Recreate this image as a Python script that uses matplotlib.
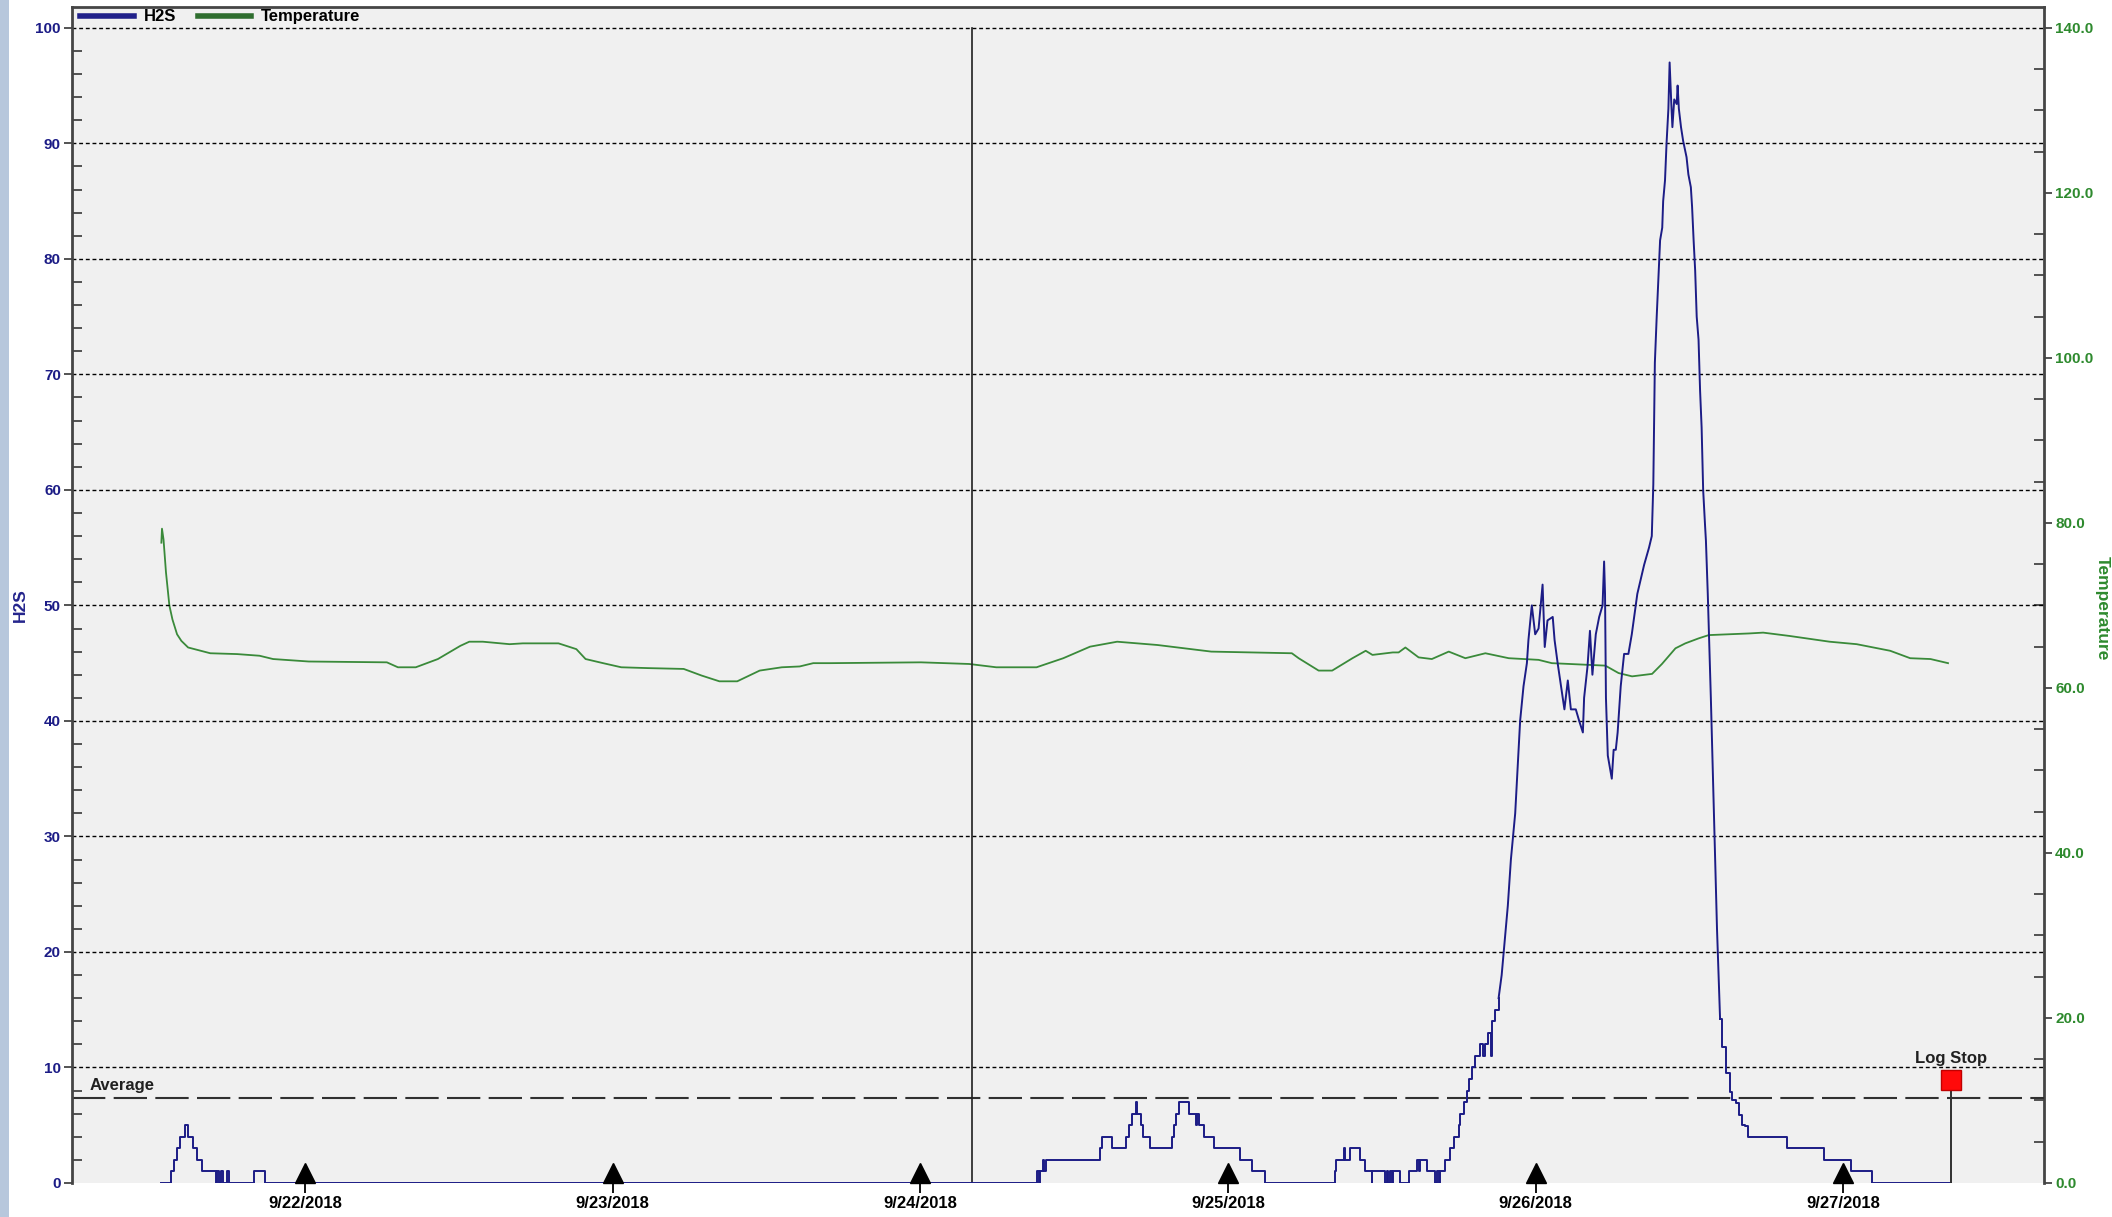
import numpy as np
import pandas as pd
import matplotlib
matplotlib.use("Agg")
import matplotlib.pyplot as plt
import matplotlib.dates as mdates
from matplotlib.ticker import MultipleLocator, FuncFormatter
from matplotlib.patches import Rectangle

plt.rcParams['font.family'] = ['Liberation Sans Narrow', 'Liberation Sans', 'DejaVu Sans']

START = pd.Timestamp('2018-09-21')

# H2S readings: days since 9/21/2018 00:00, value (held until next reading)
h2s_days = [
    0.531, 0.565, 0.575, 0.585, 0.594, 0.610, 0.620, 0.635, 0.648, 0.665, 0.711, 0.715, 0.720, 0.728,
    0.732, 0.745, 0.752, 0.833, 0.869,
    3.379, 3.385, 3.390, 3.398, 3.402, 3.408, 3.584, 3.592, 3.624, 3.668, 3.680, 3.689, 3.701, 3.705,
    3.719, 3.725, 3.746, 3.819, 3.825, 3.832, 3.840, 3.873, 3.895, 3.899, 3.906, 3.922, 3.955, 4.041,
    4.079, 4.122,
    4.347, 4.350, 4.378, 4.382, 4.398, 4.431, 4.447, 4.467, 4.470, 4.512, 4.517, 4.522, 4.527, 4.533,
    4.538, 4.561, 4.588, 4.615, 4.620, 4.625, 4.647, 4.674, 4.679, 4.685, 4.690,
    4.707, 4.723, 4.734, 4.750, 4.755, 4.766, 4.777, 4.784, 4.793, 4.804, 4.820, 4.830, 4.837, 4.847,
    4.855, 4.860, 4.869, 4.880, 4.890, 4.900, 4.910, 4.920, 4.934, 4.940, 4.950, 4.961, 4.972, 4.977,
    4.988, 4.999, 5.010, 5.023, 5.030, 5.039, 5.056, 5.062, 5.072, 5.083, 5.094, 5.105, 5.115, 5.131,
    5.142, 5.154, 5.158, 5.169, 5.177, 5.185, 5.196, 5.207, 5.218, 5.223, 5.226, 5.229, 5.235, 5.248,
    5.254, 5.261, 5.267, 5.277, 5.288, 5.302, 5.313, 5.331, 5.353, 5.369, 5.378, 5.383, 5.388, 5.394,
    5.399, 5.405, 5.412, 5.415, 5.421, 5.426, 5.432, 5.436, 5.441, 5.445, 5.451, 5.459, 5.462, 5.466,
    5.473, 5.480, 5.491, 5.497, 5.505, 5.509, 5.514, 5.519, 5.524, 5.530, 5.535, 5.540, 5.545, 5.551,
    5.554, 5.560, 5.570, 5.580, 5.590, 5.600, 5.607, 5.619, 5.632, 5.638, 5.651, 5.661, 5.670, 5.680,
    5.692, 5.816, 5.937, 6.025, 6.095, 6.352,
]
h2s_vals = [
    0, 1, 2, 3, 4, 5, 4, 3, 2, 1, 0, 1, 0, 1,
    0, 1, 0, 1, 0,
    1, 0, 1, 2, 1, 2, 3, 4, 3, 4, 5, 6, 7, 6,
    5, 4, 3, 4, 5, 6, 7, 6, 5, 6, 5, 4, 3, 2,
    1, 0,
    1, 2, 3, 2, 3, 2, 1, 0, 1, 0, 1, 0, 1, 0,
    1, 0, 1, 2, 1, 2, 1, 0, 1, 0, 1,
    2, 3, 4, 5, 6, 7, 8, 9, 10, 11, 12, 11, 12, 13,
    11, 14, 15, 16, 18, 21, 24, 28, 32, 35, 40, 43, 45, 47,
    50, 47.5, 48, 51.8, 46.4, 48.7, 49, 47, 45, 43, 41, 43.5, 41, 41,
    40, 39, 42, 44.7, 47.8, 44, 47.5, 49, 50, 53.8, 51, 42, 37, 35,
    37.5, 37.5, 39, 43, 45.8, 45.8, 47.5, 51, 53.5, 55, 56, 60.5, 71, 75,
    78, 81.6, 82.7, 85, 86.8, 90, 93, 97, 93.7, 91.4, 93.8, 93.4, 95, 93,
    91.4, 90.2, 88.8, 87.3, 86.2, 84.5, 81.6, 79, 75, 73, 68.6, 65.4, 60, 57,
    55.6, 51, 42, 32, 22, 14.2, 11.8, 9.5, 7.9, 7.2, 6.9, 5.9, 5, 4.9,
    4, 3, 2, 1, 0, 0,
]

# Temperature readings: days since 9/21/2018 00:00, value
temp_days = [
    0.533, 0.535, 0.540, 0.548, 0.559, 0.569, 0.584, 0.598, 0.620, 0.692, 0.779, 0.852, 0.896, 1.012,
    1.266, 1.302, 1.360, 1.432, 1.505, 1.534, 1.578, 1.665, 1.708, 1.824, 1.882, 1.912, 1.969, 2.028,
    2.115, 2.231, 2.289, 2.347, 2.405, 2.478, 2.550, 2.608, 2.652, 2.707, 3.002, 3.159, 3.247, 3.378,
    3.465, 3.552, 3.640, 3.771, 3.946, 4.208, 4.230, 4.295, 4.339, 4.405, 4.448, 4.470, 4.536, 4.555,
    4.577, 4.620, 4.663, 4.718, 4.772, 4.837, 4.913, 5.010, 5.053, 5.227, 5.270, 5.314, 5.379, 5.411,
    5.455, 5.487, 5.530, 5.563, 5.694, 5.740, 5.825, 5.956, 6.044, 6.153, 6.218, 6.284, 6.341,
]
temp_vals = [
    77.6, 79.3, 78.0, 74.0, 70.0, 68.3, 66.5, 65.7, 64.9, 64.2, 64.1, 63.9, 63.5, 63.2,
    63.1, 62.5, 62.5, 63.5, 65.1, 65.6, 65.6, 65.3, 65.4, 65.4, 64.7, 63.5, 63.0, 62.5,
    62.4, 62.3, 61.5, 60.8, 60.8, 62.1, 62.5, 62.6, 63.0, 63.0, 63.1, 62.9, 62.5, 62.5,
    63.6, 65.0, 65.6, 65.2, 64.4, 64.2, 63.6, 62.1, 62.1, 63.6, 64.5, 64.0, 64.3, 64.3,
    64.9, 63.7, 63.5, 64.4, 63.6, 64.2, 63.6, 63.4, 63.0, 62.7, 61.8, 61.4, 61.7, 62.9,
    64.8, 65.4, 66.0, 66.4, 66.6, 66.7, 66.3, 65.6, 65.3, 64.5, 63.6, 63.5, 63.0,
]

average_h2s = 7.4
marker_day = 3.167          # vertical cursor line
log_stop_day = 6.352
log_stop_val = 8.9
date_ticks = ['2018-09-22', '2018-09-23', '2018-09-24', '2018-09-25', '2018-09-26', '2018-09-27']

h2s_d = np.array(h2s_days)
h2s_v = np.array(h2s_vals)
h2s_t = START + pd.to_timedelta(h2s_d, unit='D')
temp_t = START + pd.to_timedelta(temp_days, unit='D')
ticks_t = pd.to_datetime(date_ticks)

navy = '#1c1c86'
green = '#3a8a3a'
bg = '#f0f0f0'
spine_c = '#454545'

fig = plt.figure(figsize=(21.12, 12.17), dpi=100)
fig.patch.set_facecolor('white')
fig.patches.append(Rectangle((0, 0), 9 / 2112, 1, transform=fig.transFigure,
                             facecolor='#b7c7dc', edgecolor='none', zorder=0))

ax2 = fig.add_axes([72 / 2112, 1 - 1183 / 1217, (2044 - 72) / 2112, (1183 - 7) / 1217])
ax = ax2.twinx()
ax.set_zorder(ax2.get_zorder() + 1)
ax.patch.set_visible(False)
ax2.patch.set_facecolor(bg)
ax.xaxis.set_visible(True)

# swap sides: H2S on the left, temperature on the right
ax.yaxis.tick_left()
ax.yaxis.set_label_position('left')
ax2.yaxis.tick_right()
ax2.yaxis.set_label_position('right')

xmin = START + pd.Timedelta(days=0.2425)
xmax = START + pd.Timedelta(days=6.653)
ax.set_xlim(xmin, xmax)
ax.set_ylim(0, 101.8)
ax2.set_ylim(0, 101.8 * 1.4)

# grid on H2S scale
for v in range(10, 101, 10):
    ax.axhline(v, color='black', lw=1.0, linestyle=(0, (2.8, 2.0)), zorder=1)

ax2.plot(temp_t, temp_vals, color=green, lw=1.3, zorder=3)

# stepped readings, but the fast ramp of the big event is drawn as a plain line
ramp = (h2s_d >= 4.880) & (h2s_d <= 5.600)
pre = h2s_d <= 4.880
post = h2s_d >= 5.600
ax.plot(h2s_t[pre], h2s_v[pre], color=navy, lw=1.4, drawstyle='steps-post', zorder=4)
ax.plot(h2s_t[ramp], h2s_v[ramp], color=navy, lw=1.4, zorder=4)
ax.plot(h2s_t[post], h2s_v[post], color=navy, lw=1.4, drawstyle='steps-post', zorder=4)

ax.axhline(average_h2s, color='#303030', lw=1.5, linestyle=(0, (16, 4)), zorder=2)
ax.text(0.0087, average_h2s + 0.35, 'Average', transform=ax.get_yaxis_transform(),
        fontsize=12, fontweight='bold', color='#202020', ha='left', va='bottom')

ax.axvline(START + pd.Timedelta(days=marker_day), ymin=0, ymax=100 / 101.8, color='#202020', lw=1.2, zorder=2)

ls_t = START + pd.Timedelta(days=log_stop_day)
ax.plot([ls_t, ls_t], [0, log_stop_val], color='#303030', lw=1.4, zorder=4)
ax.plot([ls_t], [log_stop_val], marker='s', markersize=14, color='#ff0a0a',
        markeredgecolor='#c00000', zorder=6)
ax.text(ls_t, 10.1, 'Log Stop', fontsize=12, fontweight='bold', color='#202020',
        ha='center', va='bottom')

ax.plot(ticks_t, [0.85] * len(ticks_t), linestyle='none', marker='^', markersize=14,
        color='black', zorder=6, clip_on=False)

# axes styling
for a in (ax, ax2):
    for s in a.spines.values():
        s.set_visible(False)
ax.spines['left'].set_visible(True)
ax.spines['top'].set_visible(True)
ax2.spines['right'].set_visible(True)
for s in (ax.spines['left'], ax.spines['top'], ax2.spines['right']):
    s.set_color(spine_c)
    s.set_linewidth(2)

ax.yaxis.set_major_locator(MultipleLocator(10))
ax.yaxis.set_minor_locator(MultipleLocator(2))
ax.tick_params(axis='y', which='major', direction='out', length=6, width=1.3, color=spine_c,
               labelcolor=navy, labelsize=11, pad=2)
ax.tick_params(axis='y', which='minor', direction='in', length=7, width=1.3, color=spine_c)
for lab in ax.get_yticklabels():
    lab.set_fontweight('bold')

ax2.yaxis.set_major_locator(MultipleLocator(20))
ax2.yaxis.set_minor_locator(MultipleLocator(5))
ax2.yaxis.set_major_formatter(FuncFormatter(lambda v, p: f'{v:.1f}'))
ax2.tick_params(axis='y', which='major', direction='out', length=6, width=1.3, color=spine_c,
                labelcolor='#2e8a2e', labelsize=11, pad=2)
ax2.tick_params(axis='y', which='minor', direction='in', length=7, width=1.3, color=spine_c)
for lab in ax2.get_yticklabels():
    lab.set_fontweight('bold')

ax2.tick_params(axis='x', which='both', bottom=False, labelbottom=False)
ax.set_xticks(ticks_t)
ax.xaxis.set_major_formatter(FuncFormatter(
    lambda v, p: (lambda d: f'{d.month}/{d.day}/{d.year}')(mdates.num2date(v))))
ax.tick_params(axis='x', which='major', bottom=True, labelbottom=True, direction='out',
               length=7, width=1.3, color='black', labelsize=12, pad=2)
ax.tick_params(axis='x', which='minor', bottom=False)
for lab in ax.get_xticklabels():
    lab.set_fontweight('bold')

fig.text(20 / 2112, 0.503, 'H2S', rotation=90, ha='center', va='center', fontsize=12.5,
         fontweight='bold', color='#24248c')
fig.text(2102 / 2112, 0.50, 'Temperature', rotation=270, ha='center', va='center', fontsize=12.5,
         fontweight='bold', color='#2e8a2e')

h1, = ax.plot([], [], color='#20208a', lw=4)
h2, = ax.plot([], [], color='#2f6e2f', lw=4)
ax.legend([h1, h2], ['H2S', 'Temperature'], loc='upper left', bbox_to_anchor=(0.0, 1.005),
          ncol=2, frameon=False, handlelength=3.2, handletextpad=0.6, columnspacing=1.3,
          borderaxespad=0.1, prop={'size': 12, 'weight': 'bold'})

fig.savefig('out.png', dpi=100, facecolor='white')
